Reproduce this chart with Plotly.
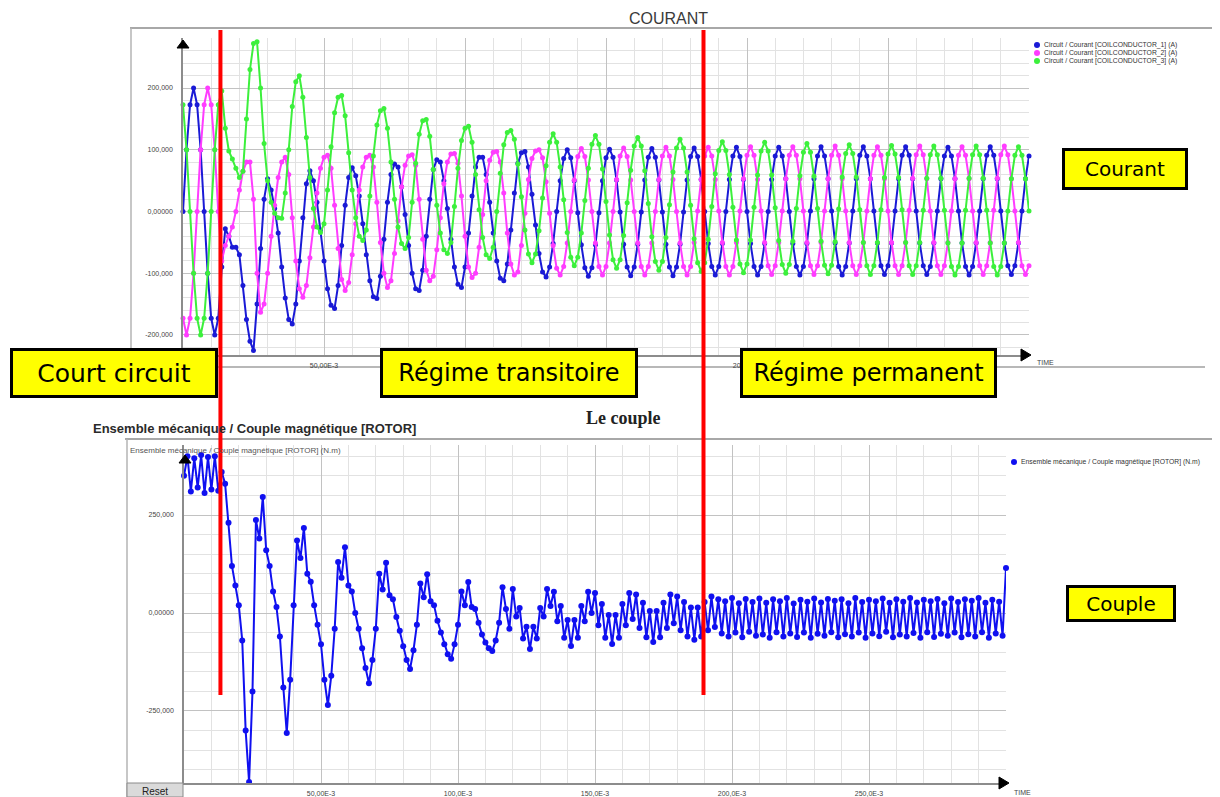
import plotly.graph_objects as go

# page body has an 8px margin: the figure is laid out in page pixels minus that offset
OFF = 8
W, H = 1212, 789

# ---------------- data ----------------
time_step_ms = 1.25
n_samples = 241
time_s = [round(k * time_step_ms / 1000.0, 6) for k in range(n_samples)]

current_1 = [
    0, 100, 173, 200, 173, 100, 0, -100, -173, -200, -173,
    -90, -28, -40, -58, -58, -70, -120, -175, -210, -225, -150, -60, 20,
    53, 35, 5, -35, -90, -140, -175, -182, -150, -80, -10, 45,
    66, 50, 15, -30, -80, -125, -152, -157, -120, -55, 10, 55,
    71, 58, 25, -20, -70, -112, -138, -141, -105, -45, 15, 60,
    77, 72, 40, -5, -55, -100, -125, -128, -95, -40, 20, 68,
    84, 80, 50, 5, -45, -90, -118, -123, -90, -35, 25, 72,
    88, 88, 60, 15, -35, -80, -108, -112, -85, -30, 30, 78,
    95, 97, 72, 28, -22, -68, -98, -106, -90, -52, 0, 50,
    86, 100, 87, 50, -2, -54, -91, -105, -91, -54, -2, 50,
    87, 101, 88, 51, -1, -53, -90, -104, -90, -53, -1, 51,
    88, 102, 88, 51, -1, -53, -90, -104, -90, -53, -1, 51,
    89, 103, 89, 52, 0, -52, -89, -103, -89, -52, 0, 52,
    90, 104, 89, 52, 0, -52, -89, -103, -89, -52, 0, 52,
    90, 104, 90, 53, 0, -52, -89, -103, -89, -52, 1, 53,
    90, 105, 90, 53, 1, -51, -89, -103, -89, -51, 1, 53,
    91, 105, 90, 53, 1, -51, -88, -102, -88, -51, 1, 53,
    91, 105, 91, 53, 1, -51, -88, -102, -89, -51, 1, 53,
    90, 104, 90, 53, 1, -51, -89, -103, -89, -51, 1, 53,
    91, 105, 91, 53, 1, -51, -88, -102, -88, -51, 1, 53,
    90,
]

current_2 = [
    -173, -200, -173, -100, 0, 100, 173, 200, 173, 100, 0,
    -80, -55, -40, -25, 0, 35, 65, 80, 80, 20, -100, -163,
    -150, -100, -40, 10, 55, 80, 88, 60, -10, -80, -125, -139,
    -120, -75, -25, 30, 70, 88, 91, 70, 10, -60, -110, -128,
    -115, -70, -20, 35, 72, 88, 91, 72, 15, -50, -100, -123,
    -112, -68, -15, 40, 75, 90, 92, 75, 20, -45, -95, -112,
    -105, -62, -10, 45, 80, 93, 94, 78, 25, -40, -90, -107,
    -100, -58, -5, 50, 83, 96, 97, 80, 30, -35, -85, -103,
    -98, -55, -3, 52, 86, 98, 100, 87, 48, -3, -55, -92,
    -103,
    -89, -51, 0, 51, 89, 102, 89, 51, 0, -51, -89, -103,
    -89, -51, 0, 52, 90, 103, 89, 51, 0, -51, -89, -103,
    -89, -51, 0, 52, 90, 104, 90, 52, 0, -51, -89, -103,
    -89, -50, 1, 52, 90, 104, 90, 52, 1, -50, -89, -103,
    -89, -50, 1, 53, 91, 105, 91, 52, 1, -50, -88, -102,
    -88, -50, 1, 53, 91, 105, 91, 53, 1, -50, -88, -102,
    -88, -50, 1, 53, 91, 106, 91, 53, 1, -50, -88, -102,
    -88, -50, 1, 53, 91, 105, 91, 53, 1, -50, -88, -102,
    -88, -50, 2, 54, 92, 106, 92, 53, 1, -50, -88, -102,
    -88, -50, 1, 53, 91, 105, 91, 53, 1, -50, -88, -102,
    -88, -50, 2, 54, 92, 106, 92, 53, 1, -50, -88, -102,
    -88,
]

current_3 = [
    173, 100, 0, -100, -173, -200, -173, -100, 0, 100, 173,
    195, 135, 98, 85, 70, 55, 65, 150, 230, 272, 275, 200,
    110, 50, 15, -3, -10, -11, 30, 100, 170, 210, 220, 185,
    120, 55, 5, -25, -34, -20, 35, 105, 160, 185, 188, 155,
    95, 35, -10, -40, -47, -30, 25, 90, 140, 163, 167, 135,
    80, 20, -25, -52, -60, -42, 15, 78, 125, 147, 149, 122,
    68, 10, -35, -62, -68, -50, 8, 70, 115, 135, 138, 112,
    60, 3, -42, -70, -76, -58, 0, 62, 108, 128, 131,
    117, 77, 24, -30, -69, -83, -69, -31, 22, 74, 112, 126,
    112, 72, 19, -34, -74, -88, -74, -35, 18, 70, 109, 123,
    109, 69, 16, -38, -78, -92, -78, -39, 14, 67, 106, 120,
    106, 66, 13, -41, -81, -95, -81, -42, 11, 64, 103, 117,
    103, 64, 10, -44, -83, -97, -83, -45, 8, 61, 99, 113,
    99, 60, 7, -46, -85, -99, -85, -46, 7, 59, 98, 112,
    98, 59, 6, -47, -86, -100, -86, -48, 5, 58, 96, 110,
    96, 57, 5, -48, -87, -101, -87, -49, 4, 56, 94, 108,
    94, 56, 3, -50, -88, -102, -88, -50, 3, 55, 93, 107,
    93, 55, 3, -50, -88, -102, -88, -50, 2, 54, 92, 106,
    92, 54, 2, -51, -89, -103, -89, -51, 2, 54, 92, 106,
    92, 54, 2, -51, -89, -103, -89, -51, 1, 53, 91, 105,
    91, 53, 1,
]

torque = [
    350, 400, 310, 395, 320, 403, 306, 398, 315, 400, 312,
    360, 330, 230, 120, 70, 20, -70, -300, -431, -200, 237, 190,
    296, 160, 120, 55, 15, -60, -190, -306, -170, 20, 185, 140,
    217, 100, 80, 20, -30, -80, -170, -235, -160, -40, 130, 90,
    168, 70, 55, 0, -40, -90, -140, -179, -120, -40, 100, 60,
    128, 45, 35, -10, -45, -85, -120, -143, -95, -30, 75, 40,
    99, 30, 20, -20, -50, -80, -105, -117, -80, -30, 55, 20,
    79, 15, 10, -25, -55, -75, -90, -97, -70, -25, 66, 10, -40,
    61, -9, 13, -65, -35, -92, -35, -65, 13, -9, 61, 18,
    54, -21, 18, -63, -18, -84, -18, -63, 18, -21, 54, 0,
    51, -31, 23, -63, -5, -79, -5, -63, 23, -31, 51, -15,
    47, -38, 26, -62, 5, -74, 5, -62, 26, -38, 47, -26,
    42, -44, 28, -60, 14, -68, 14, -60, 28, -44, 42, -36,
    35, -52, 30, -60, 38, -50, 25, -62, 36, -48, 28, -58,
    37, -55, 26, -63, 35, -49, 30, -60, 38, -52, 24, -61,
    34, -50, 29, -63, 37, -53, 27, -58, 36, -49, 31, -62,
    35, -54, 25, -60, 38, -50, 28, -63, 34, -52, 30, -59,
    37, -48, 26, -62, 35, -55, 29, -60, 38, -51, 27, -63,
    34, -49, 30, -61, 36, -53, 25, -58, 37, -50, 28, -62,
    35, -54, 31, -60, 38, -49, 26, -63, 34, -52, 29, -58,
    115,
]

current_names = [
    "Circuit / Courant [COILCONDUCTOR_1] (A)",
    "Circuit / Courant [COILCONDUCTOR_2] (A)",
    "Circuit / Courant [COILCONDUCTOR_3] (A)",
]
current_colors = ["#1a1ad6", "#ff3cff", "#3cf03c"]
torque_name = "Ensemble mécanique / Couple magnétique [ROTOR] (N.m)"
torque_color = "#1010f0"

fault_time_s = 0.0133      # start of the short circuit (red line 1)
steady_time_s = 0.1896     # start of steady state (red line 2)

x_tick_vals = [0.05, 0.10, 0.15, 0.20, 0.25]
top_x_tick_text = ["50,00E-3", "", "", "200,0E-3", ""]   # others hidden behind the boxes
bot_x_tick_text = ["50,00E-3", "100,0E-3", "150,0E-3", "200,0E-3", "250,0E-3"]
top_y_tick_vals = [-200, -100, 0, 100, 200]
top_y_tick_text = ["-200,000", "-100,000", "0,00000", "100,000", "200,000"]
bot_y_tick_vals = [-250, 0, 250]
bot_y_tick_text = ["-250,000", "0,00000", "250,000"]

# ---------------- helpers ----------------
def PX(x):
    return (x - OFF) / W

def PY(y):
    return 1 - (y - OFF) / H

TICK_FONT = dict(family="Liberation Sans, Arial", size=7, color="#444")
MAJOR_GRID = "#c2c2c2"
MINOR_GRID = "#e2e2e2"

fig = go.Figure()

for vals, col in zip([current_1, current_2, current_3], current_colors):
    fig.add_trace(go.Scatter(
        x=time_s, y=vals, mode="lines+markers", showlegend=False,
        line=dict(color=col, width=2), marker=dict(color=col, size=5),
        xaxis="x", yaxis="y", cliponaxis=False, hoverinfo="skip"))

fig.add_trace(go.Scatter(
    x=time_s, y=torque, mode="lines+markers", showlegend=False,
    line=dict(color=torque_color, width=2), marker=dict(color=torque_color, size=6),
    xaxis="x2", yaxis="y2", cliponaxis=False, hoverinfo="skip"))

minor_x = [i * 0.01 for i in range(1, 30) if i % 5]
top_minor_y = [v for v in range(-220, 281, 20) if v % 100]
bot_minor_y = [v for v in range(-400, 401, 50) if v % 250]

def xaxis_cfg(domain, anchor, ticktext):
    return dict(
        domain=domain, range=[0, 0.3], anchor=anchor,
        tickmode="array", tickvals=x_tick_vals, ticktext=ticktext,
        tickfont=TICK_FONT, ticks="outside", ticklen=3, tickcolor="rgba(0,0,0,0)",
        showgrid=True, gridcolor=MAJOR_GRID, gridwidth=1,
        minor=dict(tickmode="array", tickvals=minor_x, showgrid=True,
                   gridcolor=MINOR_GRID, gridwidth=1),
        showline=True, linecolor="#8c8c8c", linewidth=1.5, zeroline=False)

def yaxis_cfg(domain, rng, tv, tt, minor_vals, anchor):
    return dict(
        domain=domain, range=rng, anchor=anchor,
        tickmode="array", tickvals=tv, ticktext=tt,
        tickfont=TICK_FONT, ticks="outside", ticklen=7, tickcolor="rgba(0,0,0,0)",
        showgrid=True, gridcolor=MAJOR_GRID, gridwidth=1,
        minor=dict(tickmode="array", tickvals=minor_vals, showgrid=True,
                   gridcolor=MINOR_GRID, gridwidth=1),
        showline=True, linecolor="#8c8c8c", linewidth=1.5, zeroline=False)

fig.update_layout(
    width=W, height=H, margin=dict(l=0, r=0, t=0, b=0),
    paper_bgcolor="white", plot_bgcolor="white", showlegend=False,
    font=dict(family="Liberation Sans, Arial", color="#333"),
    xaxis=xaxis_cfg([PX(183), PX(1029)], "y", top_x_tick_text),
    yaxis=yaxis_cfg([PY(355), PY(38)], [-232.4, 281], top_y_tick_vals, top_y_tick_text, top_minor_y, "x"),
    xaxis2=xaxis_cfg([PX(184), PX(1006)], "y2", bot_x_tick_text),
    yaxis2=yaxis_cfg([PY(783), PY(445)], [-433.7, 428.6], bot_y_tick_vals, bot_y_tick_text, bot_minor_y, "x2"),
)

shapes = []
def pline(x0, y0, x1, y1, color, width):
    shapes.append(dict(type="line", xref="paper", yref="paper",
                       x0=PX(x0), y0=PY(y0), x1=PX(x1), y1=PY(y1),
                       line=dict(color=color, width=width), layer="below"))

# panel frames
pline(130, 28, 1220, 28, "#a8a8a8", 2)
pline(131, 28, 131, 367, "#b4b4b4", 1.5)
pline(131, 367, 1205, 367, "#a0a0a0", 1.5)
pline(125, 439, 1220, 439, "#a8a8a8", 2)
pline(127, 439, 127, 797, "#b4b4b4", 1.5)

def tri(points):
    d = "M " + " L ".join(f"{PX(x)} {PY(y)}" for x, y in points) + " Z"
    shapes.append(dict(type="path", xref="paper", yref="paper", path=d,
                       fillcolor="black", line=dict(color="black", width=1), layer="above"))

tri([(177, 48), (189, 48), (183, 40)])
tri([(1021, 349), (1021, 361), (1031, 355)])
tri([(179, 463), (191, 463), (185, 455)])
tri([(999, 777), (999, 789), (1009, 783)])

# Reset button
shapes.append(dict(type="rect", xref="paper", yref="paper",
                   x0=PX(127), y0=PY(797), x1=PX(183), y1=PY(783),
                   fillcolor="#dadada", line=dict(color="#8a8a8a", width=1), layer="above"))

# red markers of the regimes
for t in [fault_time_s, steady_time_s]:
    shapes.append(dict(type="line", xref="x2", yref="paper", x0=t, x1=t,
                       y0=PY(695), y1=PY(30), line=dict(color="#ff0000", width=4),
                       layer="above"))

ann = []
def text(x, y, s, size, color="#333", family="Liberation Sans, Arial", xanchor="center"):
    ann.append(dict(x=PX(x), y=PY(y), xref="paper", yref="paper", text=s,
                    showarrow=False, xanchor=xanchor, yanchor="middle",
                    font=dict(size=size, color=color, family=family)))

# legends (compact, as in the source software)
def legend_item(x, y, name, col):
    shapes.append(dict(type="circle", xref="paper", yref="paper",
                       x0=PX(x - 3), x1=PX(x + 3), y0=PY(y + 3), y1=PY(y - 3),
                       fillcolor=col, line=dict(color=col, width=0), layer="above"))
    text(x + 5, y, name, 6.8, "#333", xanchor="left")

for i, (name, col) in enumerate(zip(current_names, current_colors)):
    legend_item(1037, 45 + 8 * i, name, col)
legend_item(1014, 462, torque_name, torque_color)

fig.update_layout(shapes=shapes)

text(668, 18, "COURANT", 16, "#3a3a3a")
text(1045, 362, "TIME", 7, "#444")
text(1022, 792, "TIME", 7, "#444")
text(91, 428, "<b>Ensemble mécanique / Couple magnétique [ROTOR]</b>", 13, "#2a2a2a", xanchor="left")
text(623, 418, "<b>Le couple</b>", 18, "#222", family="Liberation Serif, Times New Roman")
text(128, 450, "Ensemble mécanique / Couple magnétique [ROTOR] (N.m)", 8, "#555", xanchor="left")
text(155, 791, "Reset", 10, "#222")

def box(x0, y0, x1, y1, s, size):
    bw = 3
    ann.append(dict(x=PX((x0 + x1) / 2), y=PY((y0 + y1) / 2), xref="paper", yref="paper",
                    text=s, showarrow=False, xanchor="center", yanchor="middle",
                    width=(x1 - x0) - 2 * bw, height=(y1 - y0) - 2 * bw,
                    bgcolor="#ffff00", bordercolor="black", borderwidth=bw, borderpad=0,
                    font=dict(size=size, color="black", family="DejaVu Sans, Verdana")))

box(10, 348, 218, 398, "Court circuit", 25)
box(380, 348, 638, 398, "Régime transitoire", 24)
box(740, 348, 997, 398, "Régime permanent", 24)
box(1062, 148, 1188, 190, "Courant", 20)
box(1066, 585, 1176, 622, "Couple", 20)

fig.update_layout(annotations=ann)

fig.write_html("out.html")
